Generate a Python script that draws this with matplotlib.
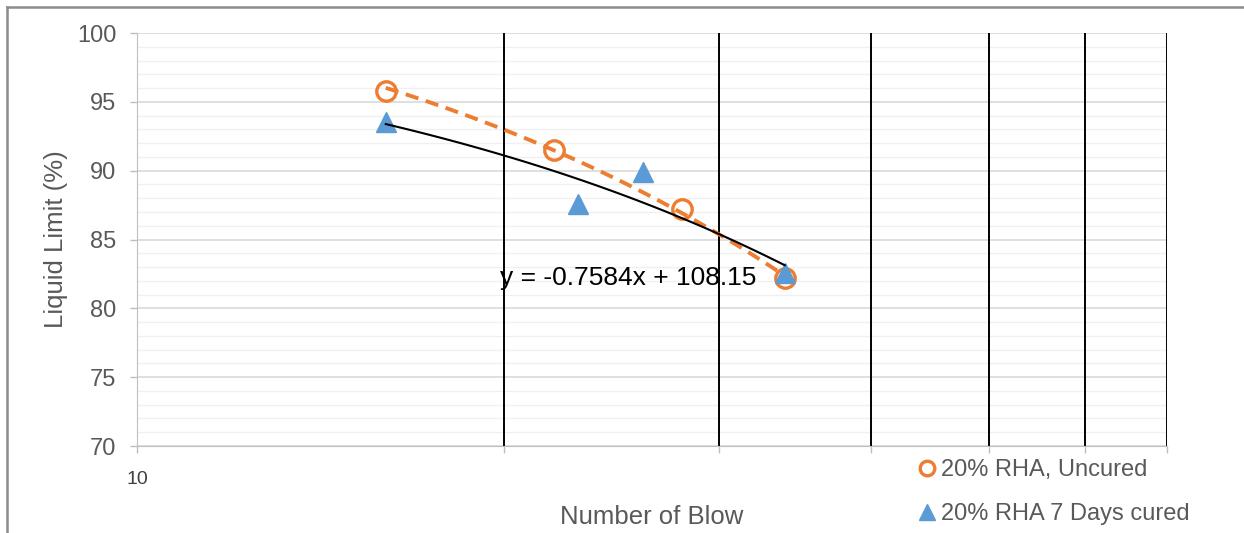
import numpy as np
import matplotlib.pyplot as plt
from matplotlib.lines import Line2D

plt.rcParams['font.family'] = ['Liberation Sans', 'DejaVu Sans']

# data
blows_uncured = [16, 22, 28, 34]
ll_uncured = [95.8, 91.5, 87.2, 82.2]
blows_cured = [16, 23, 26, 34]
ll_cured = [93.5, 87.6, 89.9, 82.6]
trend_uncured = [-0.7584, 108.15]   # y = -0.7584x + 108.15
vgrid = [20, 30, 40, 50, 60, 70]
yticks = [70, 75, 80, 85, 90, 95, 100]

orange = '#ED7D31'
blue = '#5B9BD5'
txt = '#595959'

fig = plt.figure(figsize=(12.44, 5.33), dpi=100)
ax = fig.add_axes([137/1244, 1-446/533, 1030/1244, 413/533])
ax.set_axisbelow(True)

ax.set_xscale('log')
ax.set_xlim(10, 70)
ax.set_ylim(70, 100)

# horizontal gridlines
ax.set_yticks(yticks)
ax.set_yticks(np.arange(70, 101, 1), minor=True)
ax.grid(axis='y', which='major', color='#D9D9D9', lw=1.2)
ax.grid(axis='y', which='minor', color='#F0F0F0', lw=1.0)
# black vertical lines
for v in vgrid:
    ax.axvline(v, color='black', lw=1.4, zorder=1.5)

ax.set_xticks([10] + vgrid)
ax.set_xticklabels(['10'] + [''] * len(vgrid))
ax.xaxis.set_minor_locator(plt.NullLocator())
ax.xaxis.set_minor_formatter(plt.NullFormatter())
ax.tick_params(axis='x', colors='#BFBFBF', length=5, width=1, labelcolor='#404040',
               labelsize=14, pad=13)
ax.tick_params(axis='y', which='major', colors='#BFBFBF', length=5, width=1,
               labelcolor=txt, labelsize=17, pad=10)
ax.tick_params(axis='y', which='minor', length=0)

for s in ['top', 'right']:
    ax.spines[s].set_visible(False)
ax.spines['left'].set_color('#BFBFBF')
ax.spines['bottom'].set_color('#BFBFBF')

# trendlines
xs = np.linspace(min(blows_uncured), max(blows_uncured), 100)
ax.plot(xs, trend_uncured[0] * xs + trend_uncured[1], color=orange, lw=2.8,
        ls=(0, (3.4, 2.0)), zorder=3)
c = np.polyfit(blows_cured, ll_cured, 1)
xc = np.linspace(min(blows_cured), max(blows_cured), 100)
ax.plot(xc, np.polyval(c, xc), color='black', lw=1.5, zorder=5)

ax.plot(blows_uncured, ll_uncured, 'o', ms=14, mfc='none', mec=orange, mew=2.4,
        zorder=3, label='20% RHA, Uncured')
ax.plot(blows_cured, ll_cured, '^', ms=15, color=blue, zorder=4,
        label='20% RHA 7 Days cured')

ax.text(19.85, 82.2, 'y = -0.7584x + 108.15', fontsize=19, color='black',
        ha='left', va='center', zorder=6)

ax.set_xlabel('Number of Blow', fontsize=18.5, color=txt, labelpad=12)
ax.set_ylabel('Liquid Limit (%)', fontsize=18.5, color=txt, labelpad=6)

fig.legend(loc='upper left', bbox_to_anchor=(906/1244, 1-447/533), frameon=False,
           fontsize=17, labelcolor=txt, handlelength=0.8, handletextpad=0.2,
           labelspacing=0.95, borderpad=0, markerscale=0.75)

# outer chart border (top and left)
fig.add_artist(Line2D([7/1244, 1], [1-7/533, 1-7/533], color='#8C8C8C', lw=1.8))
fig.add_artist(Line2D([7/1244, 7/1244], [0, 1-7/533], color='#8C8C8C', lw=1.8))

fig.savefig('out.png', dpi=100)
